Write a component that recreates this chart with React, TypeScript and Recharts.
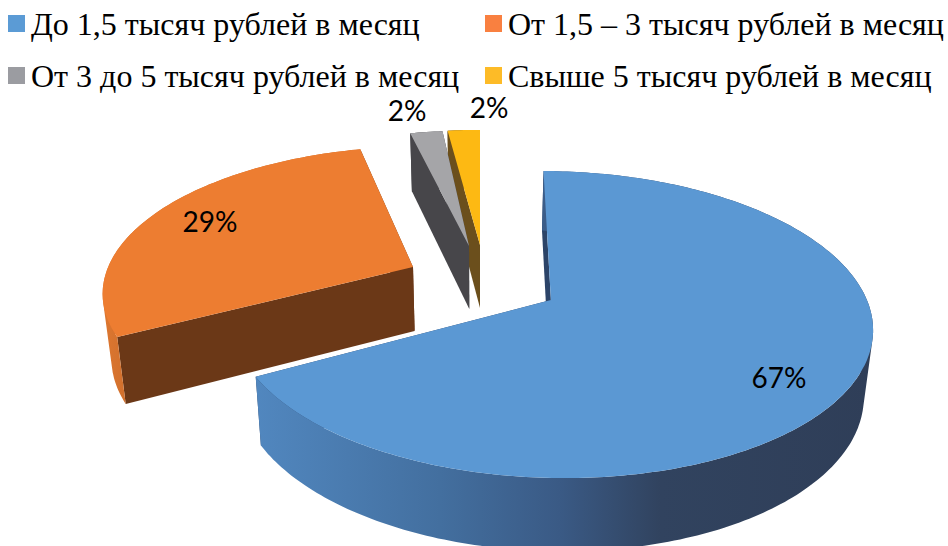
import React from 'react';
import { PieChart, Pie, Legend } from 'recharts';

const categories = [
  'Свыше 5 тысяч рублей в месяц',
  'От 3 до 5 тысяч рублей в месяц',
  'От 1,5 – 3 тысяч рублей в месяц',
  'До 1,5 тысяч рублей в месяц',
];
const values = [2, 2, 29, 67];

const topColors = ['#fdb913', '#a5a5a8', '#ed7d31', '#5b98d3'];
const legendColors = ['#fdbb27', '#9b9ca1', '#f98040', '#5b9bd5'];
const faceColors = ['#6b4f1c', '#47464a', '#6b3817', '#2c4468'];
const rimStops: [number, string][][] = [
  [[440, '#6b4f1c'], [480, '#6b4f1c']],
  [[400, '#47464a'], [470, '#47464a']],
  [[105, '#dc7630'], [130, '#cf6f2c']],
  [[255, '#5187bf'], [440, '#436f9f'], [560, '#3a5a85'], [660, '#31435f'], [872, '#2f3e58']],
];

// layout of the exploded perspective pie
const explode: [number, number][] = [[0, -0.39], [-0.0369, -0.383], [-0.2198, -0.2287], [0.2244, 0]];
const tilt = [0, 1, 1, 0.5];
const labelAt: [number, number][] = [[489, 107], [407, 110], [210, 221], [779, 377]];
const legendAt: [number, number][] = [[485, 67], [8, 67], [485, 15], [8, 15]];
const PERSP = 0.16;
const DEPTH = 149.6;

const data = categories.map((name, i) => ({ name, value: values[i], fill: legendColors[i] }));

type P = [number, number];
const project = (cx: number, cy: number, R: number, wx: number, wu: number): P => {
  const s = 1 / (1 - PERSP * wu);
  return [cx + wx * R * s, cy + DEPTH * wu * s];
};
const drop = (cx: number, p: P): P => [p[0] - (p[0] - cx) * 0.0235, p[1] * 1.0445 + 52];
const toPath = (pts: P[]) =>
  'M' + pts.map((p) => `${p[0].toFixed(1)},${p[1].toFixed(1)}`).join('L') + 'Z';

function Slice3D(props: any) {
  const { cx, cy, outerRadius: R, startAngle, endAngle } = props;
  const name = props.payload?.name ?? props.name;
  const i = categories.indexOf(name);
  const [ax, au] = explode[i];
  const t1 = 90 - startAngle + tilt[i];
  const t2 = 90 - endAngle + tilt[i];
  const steps = Math.max(4, Math.ceil(Math.abs(t2 - t1)));
  const arc: P[] = [];
  for (let k = 0; k <= steps; k++) {
    const th = ((t1 + ((t2 - t1) * k) / steps) * Math.PI) / 180;
    arc.push(project(cx, cy, R, ax + Math.sin(th), au - Math.cos(th)));
  }
  const apex = project(cx, cy, R, ax, au);
  const arcLow = arc.map((p) => drop(cx, p));
  const apexLow = drop(cx, apex);
  const first = arc[0];
  const last = arc[arc.length - 1];
  const gid = `rim-${i}`;
  const stops = rimStops[i];
  const x0 = stops[0][0];
  const x1 = stops[stops.length - 1][0];
  const rimPath = arc
    .slice(0, -1)
    .map((p, k) => {
      const a = arc[k + 1];
      const quad = [p, a, arcLow[k + 1], arcLow[k]] as P[];
      // keep every quad wound the same way so overlaps never cancel
      const area = quad.reduce((acc, q, n) => {
        const w = quad[(n + 1) % 4];
        return acc + q[0] * w[1] - w[0] * q[1];
      }, 0);
      return toPath(area < 0 ? [...quad].reverse() : quad);
    })
    .join('');
  return (
    <g>
      <defs>
        <linearGradient id={gid} gradientUnits="userSpaceOnUse" x1={x0} x2={x1} y1={0} y2={0}>
          {stops.map(([x, c]) => (
            <stop key={x} offset={(x - x0) / (x1 - x0)} stopColor={c} />
          ))}
        </linearGradient>
      </defs>
      <path d={toPath([apex, first, arcLow[0], apexLow])} fill={faceColors[i]} />
      <path d={toPath([apex, last, arcLow[arcLow.length - 1], apexLow])} fill={faceColors[i]} />
      <path d={rimPath} fill={`url(#${gid})`} />
      <path d={toPath([apex, ...arc])} fill={topColors[i]} />
    </g>
  );
}

function renderLabel(props: any) {
  const i = categories.indexOf(props.name ?? props.payload?.name);
  const [x, y] = labelAt[i];
  return (
    <text
      x={x}
      y={y}
      textAnchor="middle"
      dominantBaseline="central"
      fontFamily="Lato, sans-serif"
      fontSize={28}
      fill="#000"
    >
      {`${Math.round(props.percent * 100)}%`}
    </text>
  );
}

function LegendBlock({ payload }: any) {
  return (
    <div style={{ position: 'relative', width: 948, height: 100, overflow: 'hidden' }}>
      {(payload || []).map((e: any) => {
        const i = categories.indexOf(e.value);
        const [x, y] = legendAt[i];
        return (
          <div key={e.value} style={{ position: 'absolute', left: x, top: y, whiteSpace: 'nowrap' }}>
            <span
              style={{
                position: 'absolute',
                left: 0,
                top: 0,
                width: 17,
                height: 17,
                background: legendColors[i],
              }}
            />
            <span
              style={{
                position: 'absolute',
                left: 23,
                top: -9,
                font: '32px/36px "Liberation Serif", serif',
                color: '#000',
              }}
            >
              {e.value}
            </span>
          </div>
        );
      })}
    </div>
  );
}

export default function App() {
  return (
    <div style={{ position: 'fixed', left: 0, top: 0, width: 948, height: 546, background: '#fff', overflow: 'hidden' }}>
      <PieChart width={948} height={546} margin={{ top: 0, right: 0, bottom: 0, left: 0 }}>
        <Pie
          data={data}
          dataKey="value"
          nameKey="name"
          cx={480}
          cy={300}
          innerRadius={0}
          outerRadius={316}
          startAngle={90}
          endAngle={450}
          stroke="none"
          shape={Slice3D}
          label={renderLabel}
          labelLine={false}
          isAnimationActive={false}
        />
        <Legend
          content={<LegendBlock />}
          wrapperStyle={{ position: 'absolute', left: 0, top: 0, width: 948, height: 100 }}
        />
      </PieChart>
    </div>
  );
}
